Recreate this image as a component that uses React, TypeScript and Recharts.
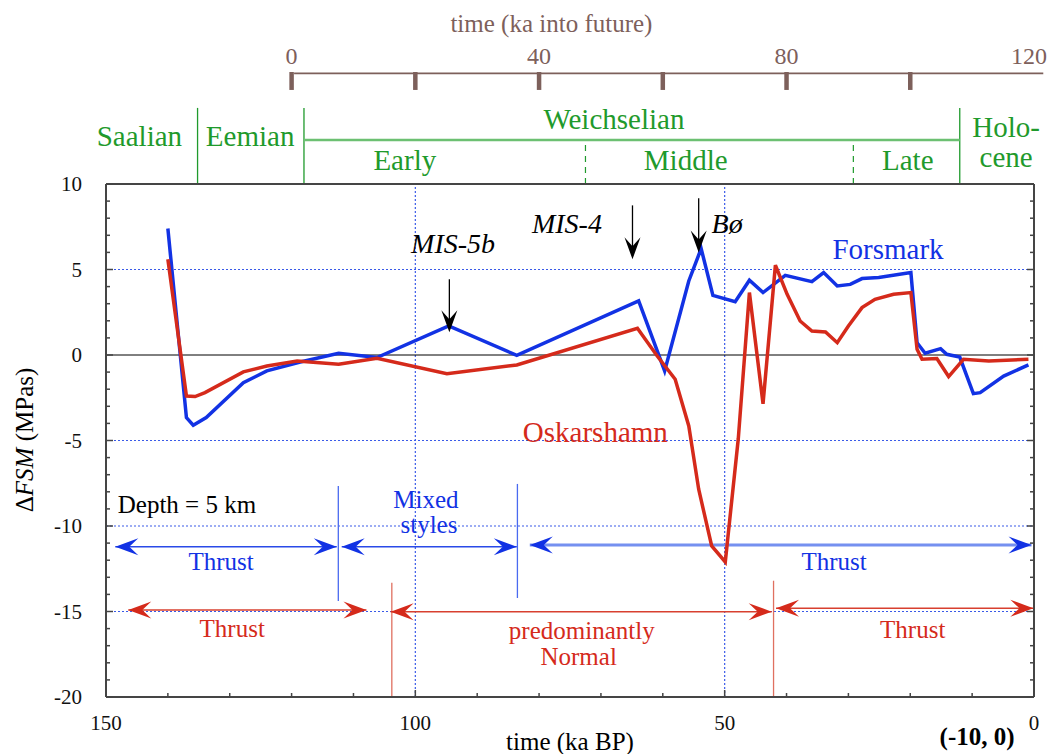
import React from 'react';
import { ComposedChart, Line, XAxis, YAxis, ReferenceLine, ReferenceDot } from 'recharts';

// ΔFSM at 5 km depth through the last glacial cycle (ka BP, MPa)
const forsmarkAge = [140, 137.0, 135.9, 133.8, 127.8, 124.0, 118.6, 112.4, 106.2, 94.6, 83.6, 63.9, 59.7, 55.8, 53.8, 51.9, 48.3, 46.0, 43.8, 40.2, 35.9, 34.0, 31.8, 29.7, 27.8, 25.1, 19.9, 18.9, 17.6, 15.1, 14.1, 12.0, 9.8, 8.7, 4.9, 0.9];
const forsmarkDFSM = [7.4, -3.66, -4.11, -3.66, -1.62, -0.93, -0.41, 0.1, -0.15, 1.7, -0.02, 3.16, -0.93, 4.33, 6.22, 3.49, 3.12, 4.37, 3.65, 4.66, 4.29, 4.82, 4.04, 4.13, 4.47, 4.53, 4.82, 0.72, 0.1, 0.37, 0.04, -0.12, -2.26, -2.2, -1.23, -0.58];

const oskarshamnAge = [140, 137.0, 135.6, 134.0, 127.8, 124.0, 119.1, 112.4, 106.2, 94.9, 83.6, 64.1, 60.9, 58.0, 55.8, 54.2, 52.1, 49.9, 47.8, 46.0, 43.8, 41.8, 39.9, 37.8, 35.9, 33.7, 31.8, 30.0, 27.8, 25.7, 22.7, 19.9, 18.9, 18.1, 15.7, 13.8, 11.4, 7.3, 0.9];
const oskarshamnDFSM = [5.6, -2.4, -2.43, -2.2, -0.99, -0.64, -0.35, -0.54, -0.19, -1.1, -0.58, 1.56, -0.06, -1.42, -4.15, -7.85, -11.17, -12.1, -4.9, 3.65, -2.85, 5.25, 3.55, 1.99, 1.4, 1.35, 0.72, 1.7, 2.77, 3.26, 3.55, 3.65, 0.33, -0.25, -0.21, -1.26, -0.25, -0.35, -0.25];

const bpTicks = [0, 10, 20, 30, 40, 50, 60, 70, 80, 90, 100, 110, 120, 130, 140, 150];
const bpLabelTicks = [0, 50, 100, 150];
const dfsmTicks = [-20, -19, -18, -17, -16, -15, -14, -13, -12, -11, -10, -9, -8, -7, -6, -5, -4, -3, -2, -1, 0, 1, 2, 3, 4, 5, 6, 7, 8, 9, 10];
const dfsmLabelTicks = [-20, -15, -10, -5, 0, 5, 10];
const gridDFSM = [5, -5, -10, -15];
const gridAge = [100, 50];

// upper scale: time into the future, 0 at 120 ka BP
const futureOrigin = 120;
const futureTicks = [0, 20, 40, 60, 80, 100];
const futureLabels = [0, 40, 80, 120];

// stratigraphy strip above the plot
const stageBounds = [135.2, 118, 12];
const substageBounds = [72.5, 29.2];
const stageNames = [
  { text: 'Saalian', t: 144.6, v: 12.22 },
  { text: 'Eemian', t: 126.7, v: 12.22 },
  { text: 'Weichselian', t: 67.9, v: 13.22 },
  { text: 'Early', t: 101.7, v: 10.82 },
  { text: 'Middle', t: 56.3, v: 10.82 },
  { text: 'Late', t: 20.4, v: 10.82 },
  { text: 'Holo-', t: 4.5, v: 12.72 },
  { text: 'cene', t: 4.5, v: 10.99 },
];

// faulting-style ranges
const forsmarkStyles = [
  { from: 148.5, to: 112.7, v: -11.21, heavy: false },
  { from: 111.9, to: 83.6, v: -11.21, heavy: false },
  { from: 81.5, to: 0.4, v: -11.11, heavy: true },
];
const oskarshamnStyles = [
  { from: 146.4, to: 107.9, v: -14.91 },
  { from: 104.0, to: 42.4, v: -15.01 },
  { from: 41.7, to: 0.1, v: -14.81 },
];
const forsmarkDividers = [
  { t: 112.45, top: -7.66, bottom: -14.39 },
  { t: 83.5, top: -7.54, bottom: -14.21 },
];
const oskarshamnDividers = [
  { t: 103.8, top: -13.32, bottom: -20 },
  { t: 42.1, top: -13.2, bottom: -20 },
];
const forsmarkStyleNames = [
  { text: 'Thrust', t: 131.4, v: -12.57 },
  { text: 'Mixed', t: 98.3, v: -8.95 },
  { text: 'styles', t: 97.8, v: -10.4 },
  { text: 'Thrust', t: 32.3, v: -12.57 },
];
const oskarshamnStyleNames = [
  { text: 'Thrust', t: 129.6, v: -16.47 },
  { text: 'predominantly', t: 73.1, v: -16.6 },
  { text: 'Normal', t: 73.6, v: -18.12 },
  { text: 'Thrust', t: 19.6, v: -16.53 },
];

// climate events
const events = [
  { text: 'MIS-5b', t: 94.5, from: 4.43, to: 1.33, labelT: 93.9, labelV: 5.96 },
  { text: 'MIS-4', t: 64.9, from: 8.75, to: 5.6, labelT: 75.5, labelV: 7.13 },
  { text: 'Bø', t: 54.2, from: 9.16, to: 6.0, labelT: 49.6, labelV: 7.13 },
];

const forsmarkData = forsmarkAge.map((t, i) => ({ t, v: forsmarkDFSM[i] }));
const oskarshamnData = oskarshamnAge.map((t, i) => ({ t, v: oskarshamnDFSM[i] }));

const SERIF = '"Liberation Serif", "DejaVu Serif", "Times New Roman", serif';
const FRAME = '#454545';
const BLUE = '#1232e4';
const RED = '#d52a1b';
const GREEN = '#1f9a2c';
const BROWN = '#7d605b';
const GRID = '#3a5ae8';

const AX = { xAxisId: 'bp', yAxisId: 'dfsm' } as const;

type TextOpts = { size: number; color: string; italic?: boolean; bold?: boolean; anchor?: 'start' | 'middle' | 'end'; rotate?: boolean };

function textDot(key: string, t: number, v: number, content: React.ReactNode, o: TextOpts) {
  return (
    <ReferenceDot
      key={key}
      {...AX}
      x={t}
      y={v}
      r={0}
      ifOverflow="visible"
      shape={(p: any) => (
        <text
          x={p.cx}
          y={p.cy}
          textAnchor={o.anchor ?? 'middle'}
          fontFamily={SERIF}
          fontSize={o.size}
          fill={o.color}
          fontStyle={o.italic ? 'italic' : 'normal'}
          fontWeight={o.bold ? 'bold' : 'normal'}
          transform={o.rotate ? `rotate(-90 ${p.cx} ${p.cy})` : undefined}
        >
          {content}
        </text>
      )}
    />
  );
}

function seg(key: string, a: [number, number], b: [number, number], stroke: string, width: number, dash?: string) {
  return (
    <ReferenceLine
      key={key}
      {...AX}
      segment={[{ x: a[0], y: a[1] }, { x: b[0], y: b[1] }]}
      stroke={stroke}
      strokeWidth={width}
      strokeDasharray={dash}
      ifOverflow="visible"
    />
  );
}

type Dir = 'left' | 'right' | 'down';
function headDot(key: string, t: number, v: number, dir: Dir, color: string) {
  return (
    <ReferenceDot
      key={key}
      {...AX}
      x={t}
      y={v}
      r={0}
      ifOverflow="visible"
      shape={(p: any) => {
        const { cx, cy } = p;
        const L = 23;
        const W = 8.5;
        const N = 14;
        let pts: number[][];
        if (dir === 'right') pts = [[cx, cy], [cx - L, cy - W], [cx - N, cy], [cx - L, cy + W]];
        else if (dir === 'left') pts = [[cx, cy], [cx + L, cy - W], [cx + N, cy], [cx + L, cy + W]];
        else pts = [[cx, cy], [cx - 8, cy - 22], [cx, cy - 13], [cx + 8, cy - 22]];
        return <polygon points={pts.map((q) => q.join(',')).join(' ')} fill={color} />;
      }}
    />
  );
}

const bottomTick = (p: any) => {
  const v = p.payload.value;
  const major = v % 50 === 0;
  return (
    <g>
      <line x1={p.x} y1={p.y} x2={p.x} y2={p.y - (major ? 7 : 4)} stroke={FRAME} strokeWidth={1.5} />
      {bpLabelTicks.includes(v) && (
        <text x={p.x} y={p.y + 33} textAnchor="middle" fontFamily={SERIF} fontSize={21} fill="#111">
          {v}
        </text>
      )}
    </g>
  );
};

const topTick = (p: any) => {
  const major = p.payload.value % 50 === 0;
  return <line x1={p.x} y1={p.y} x2={p.x} y2={p.y + (major ? 7 : 4)} stroke={FRAME} strokeWidth={1.5} />;
};

const leftTick = (p: any) => {
  const v = p.payload.value;
  const major = v % 5 === 0;
  return (
    <g>
      <line x1={p.x} y1={p.y} x2={p.x + (major ? 7 : 4)} y2={p.y} stroke={FRAME} strokeWidth={1.5} />
      {dfsmLabelTicks.includes(v) && (
        <text x={p.x - 24} y={p.y} dy="0.35em" textAnchor="end" fontFamily={SERIF} fontSize={21} fill="#111">
          {v}
        </text>
      )}
    </g>
  );
};

const rightTick = (p: any) => {
  const major = p.payload.value % 5 === 0;
  return <line x1={p.x} y1={p.y} x2={p.x - (major ? 7 : 4)} y2={p.y} stroke={FRAME} strokeWidth={1.5} />;
};

const frameLine = { stroke: FRAME, strokeWidth: 2 };

export default function App() {
  return (
    <div style={{ position: 'absolute', left: 0, top: 0, width: 1050, height: 754, background: '#ffffff' }}>
      <ComposedChart width={1050} height={754} margin={{ top: 174, right: 0, bottom: 0, left: 0 }}>
        <XAxis
          xAxisId="bp"
          type="number"
          dataKey="t"
          domain={[0, 150]}
          reversed
          allowDataOverflow
          ticks={bpTicks}
          interval={0}
          height={57}
          tickSize={0}
          tickMargin={0}
          tickLine={false}
          axisLine={frameLine}
          tick={bottomTick}
        />
        <XAxis
          xAxisId="frameTop"
          orientation="top"
          type="number"
          domain={[0, 150]}
          reversed
          allowDataOverflow
          ticks={bpTicks}
          interval={0}
          height={10}
          tickSize={0}
          tickMargin={0}
          tickLine={false}
          axisLine={frameLine}
          tick={topTick}
        />
        <YAxis
          yAxisId="dfsm"
          type="number"
          domain={[-20, 10]}
          allowDataOverflow
          ticks={dfsmTicks}
          interval={0}
          width={106}
          tickSize={0}
          tickMargin={0}
          tickLine={false}
          axisLine={frameLine}
          tick={leftTick}
        />
        <YAxis
          yAxisId="frameRight"
          orientation="right"
          type="number"
          domain={[-20, 10]}
          allowDataOverflow
          ticks={dfsmTicks}
          interval={0}
          width={16}
          tickSize={0}
          tickMargin={0}
          tickLine={false}
          axisLine={frameLine}
          tick={rightTick}
        />

        {gridDFSM.map((v) => (
          <ReferenceLine key={`gy${v}`} {...AX} y={v} stroke={GRID} strokeWidth={1.2} strokeDasharray="2 2" />
        ))}
        {gridAge.map((t) => (
          <ReferenceLine key={`gx${t}`} {...AX} x={t} stroke={GRID} strokeWidth={1.2} strokeDasharray="2 2" />
        ))}
        <ReferenceLine {...AX} y={0} stroke="#000" strokeWidth={1} />

        {/* upper time scale */}
        {seg('fut-axis', [119.6, 16.47], [-1.5, 16.47], BROWN, 1.8)}
        {futureTicks.map((f) => seg(`fut-t${f}`, [futureOrigin - f, 16.55], [futureOrigin - f, 15.5], BROWN, 4.5))}
        {futureLabels.map((f) =>
          textDot(`fut-l${f}`, futureOrigin - f + (f === 120 ? 0.8 : 0), 17.02, String(f), { size: 24, color: BROWN })
        )}
        {textDot('fut-title', 78, 18.89, 'time (ka into future)', { size: 25, color: BROWN })}

        {/* stratigraphy */}
        {stageBounds.map((t) => seg(`st${t}`, [t, 10], [t, 14.45], GREEN, 1.3))}
        {substageBounds.map((t) => seg(`sub${t}`, [t, 10], [t, 12.5], GREEN, 1.2, '6 5'))}
        {seg('weich', [118, 12.57], [12, 12.57], '#6cc072', 2.5)}
        {stageNames.map((s) => textDot(`sn${s.text}`, s.t, s.v, s.text, { size: 29, color: GREEN }))}

        {/* faulting styles */}
        {forsmarkDividers.map((d) => seg(`fd${d.t}`, [d.t, d.top], [d.t, d.bottom], '#4a6af0', 1.3))}
        {oskarshamnDividers.map((d) => seg(`od${d.t}`, [d.t, d.top], [d.t, d.bottom], '#e07060', 1.3))}
        {forsmarkStyles.map((a) => seg(`fa${a.from}`, [a.from, a.v], [a.to, a.v], a.heavy ? '#7590f0' : '#2a4ae8', a.heavy ? 3 : 1.5))}
        {oskarshamnStyles.map((a) => seg(`oa${a.from}`, [a.from, a.v], [a.to, a.v], '#d8402f', 1.5))}

        <Line {...AX} data={forsmarkData} dataKey="v" type="linear" stroke={BLUE} strokeWidth={3.5} dot={false} isAnimationActive={false} />
        <Line {...AX} data={oskarshamnData} dataKey="v" type="linear" stroke={RED} strokeWidth={3.5} dot={false} isAnimationActive={false} />

        {forsmarkStyles.map((a) => headDot(`fal${a.from}`, a.from, a.v, 'left', BLUE))}
        {forsmarkStyles.map((a) => headDot(`far${a.from}`, a.to, a.v, 'right', BLUE))}
        {oskarshamnStyles.map((a) => headDot(`oal${a.from}`, a.from, a.v, 'left', RED))}
        {oskarshamnStyles.map((a) => headDot(`oar${a.from}`, a.to, a.v, 'right', RED))}
        {forsmarkStyleNames.map((s, i) => textDot(`fsn${i}`, s.t, s.v, s.text, { size: 25, color: BLUE }))}
        {oskarshamnStyleNames.map((s, i) => textDot(`osn${i}`, s.t, s.v, s.text, { size: 25, color: RED }))}
        {textDot('depth', 148.1, -9.22, 'Depth = 5 km', { size: 25, color: '#000', anchor: 'start' })}

        {/* events */}
        {events.map((e) => seg(`ev${e.text}`, [e.t, e.from], [e.t, e.to + 0.6], '#000', 1.3))}
        {events.map((e) => headDot(`evh${e.text}`, e.t, e.to, 'down', '#000'))}
        {events.map((e) => textDot(`evl${e.text}`, e.labelT, e.labelV, e.text, { size: 28, color: '#000', italic: true }))}

        {textDot('name-f', 23.6, 5.61, 'Forsmark', { size: 29, color: BLUE })}
        {textDot('name-o', 70.9, -5.09, 'Oskarshamn', { size: 29, color: RED })}

        {/* axis titles */}
        {textDot('x-title', 75, -23.1, 'time (ka BP)', { size: 25, color: '#000' })}
        {textDot('x-note', 9.2, -22.81, '(-10, 0)', { size: 25, color: '#000', bold: true })}
        {textDot(
          'y-title',
          161.8,
          -4.97,
          <>
            Δ<tspan fontStyle="italic">FSM</tspan> (MPas)
          </>,
          { size: 25, color: '#000', rotate: true }
        )}
      </ComposedChart>
    </div>
  );
}
